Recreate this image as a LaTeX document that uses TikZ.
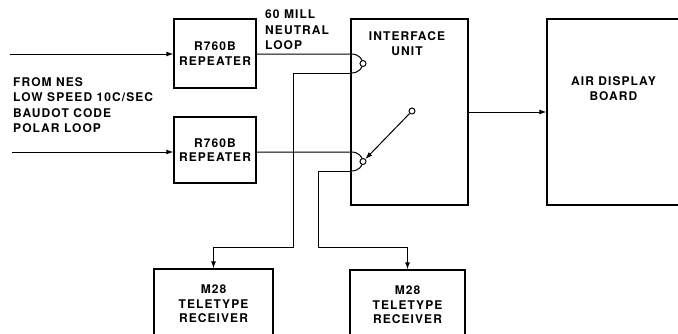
\documentclass[tikz,border=0pt]{standalone}
\usepackage{fontspec}
\setmainfont{TeX Gyre Heros}[LetterSpace=9]
\usetikzlibrary{arrows.meta}

\begin{document}
\begin{tikzpicture}[x=1pt,y=-1pt,
  box/.style={draw,line width=1.3pt,align=center,inner sep=0pt,font=\bfseries\fontsize{12}{14.5}\selectfont},
  lab/.style={inner sep=0pt,font=\bfseries\fontsize{12}{15.5}\selectfont},
  wire/.style={line width=1pt},
  arr/.style={wire,-{Latex[length=7pt,width=5pt]}},
  contact/.style={circle,draw,line width=1pt,fill=white,inner sep=0pt,minimum size=6pt}]
\path[use as bounding box,clip] (0,0) rectangle (678,333);
% blocks
\node[box,minimum width=82pt,minimum height=69pt]  (rep1)  at (215,53.5)  {R760B\\REPEATER};
\node[box,minimum width=82pt,minimum height=66pt]  (rep2)  at (215,150)   {R760B\\REPEATER};
\node[box,minimum width=117pt,minimum height=186pt] (iface) at (409.5,112) {};
\node[box,minimum width=133pt,minimum height=186pt] (board) at (613.5,112) {};
\node[box,minimum width=119pt,minimum height=70pt] (tty1)  at (213.5,304) {M28\\TELETYPE\\RECEIVER};
\node[box,minimum width=115pt,minimum height=70pt] (tty2)  at (407.5,305) {M28\\TELETYPE\\RECEIVER};
% texts
\node[lab,align=center,anchor=north] (ifacet) at (407,31) {INTERFACE\\UNIT};
\node[lab,align=center,anchor=north] (boardt) at (613.5,76) {AIR DISPLAY\\BOARD};
\node[lab,align=left,anchor=north west] (srct) at (13,77) {FROM NES\\LOW SPEED 10C/SEC\\BAUDOT CODE\\POLAR LOOP};
\node[lab,align=left,anchor=north west] (loopt) at (265,10) {60 MILL\\NEUTRAL\\LOOP};
% free ends and loop points
\coordinate (in1) at (10,54);
\coordinate (in2) at (12,152);
\coordinate (c1a) at (351,54);
\coordinate (c1b) at (351,73);
\coordinate (c2a) at (351,152);
\coordinate (c2b) at (351,171);
% inputs
\draw[arr] (in1) -- (in1 -| rep1.west);
\draw[arr] (in2) -- (in2 -| rep2.west);
% loops through the interface contacts
\draw[wire] (rep1.east |- c1a) -- (c1a) .. controls ([xshift=15.5pt]c1a) and ([xshift=15.5pt]c1b) .. (c1b);
\draw[arr] (c1b) -- ++(-58,0) -- ++(0,174) -| (tty1.north);
\draw[wire] (rep2.east |- c2a) -- (c2a) .. controls ([xshift=15.5pt]c2a) and ([xshift=15.5pt]c2b) .. (c2b);
\draw[arr] (c2b) -- ++(-33,0) -- ++(0,76) -| (tty2.north);
% switch
\node[contact] (k1)    at (363,63.5)  {};
\node[contact] (k2)    at (363,161.5) {};
\node[contact] (pivot) at (412,111)   {};
\draw[arr] (pivot) -- (k2);
% output
\draw[arr] (iface.east) -- (board.west);
\end{tikzpicture}
\end{document}
